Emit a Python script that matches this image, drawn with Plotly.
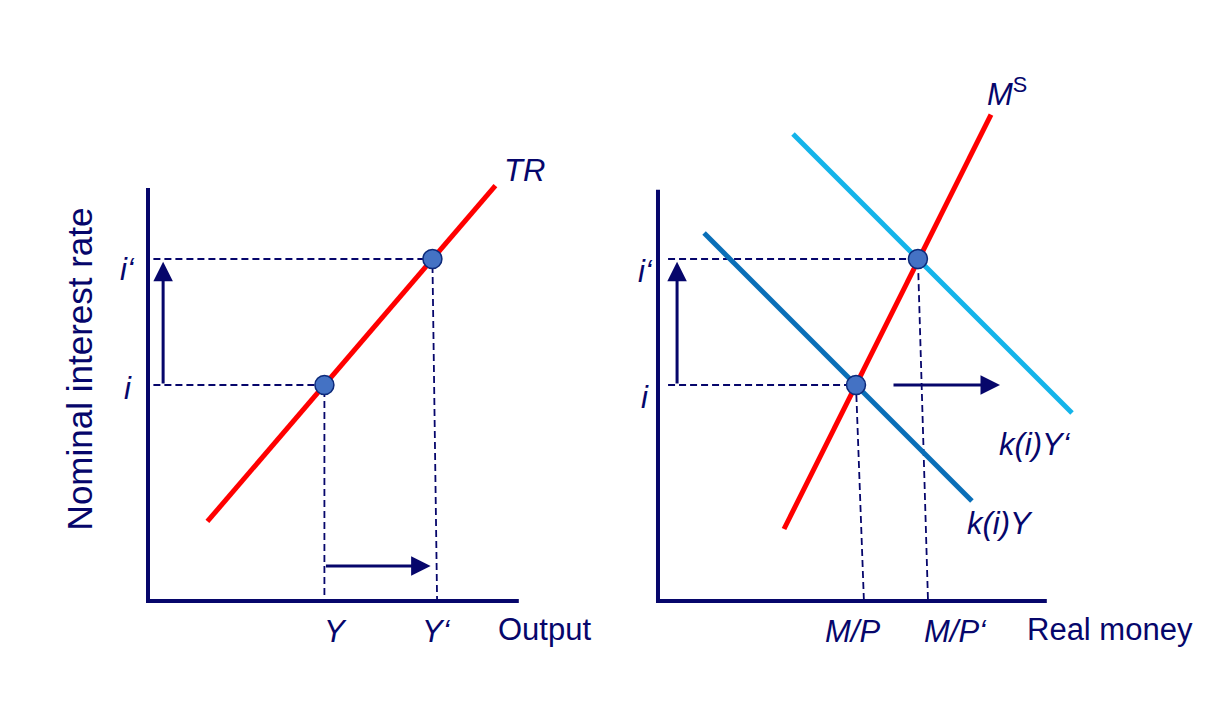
import plotly.graph_objects as go

NAVY = "#06066b"
RED = "#ff0000"
DARK_BLUE = "#0a6fb8"
LIGHT_BLUE = "#14b4ea"
DOT_FILL = "#4472c4"
DOT_LINE = "#0d2a7a"
FONT = "Liberation Sans, Arial, sans-serif"

# ---------------- Left panel (Output market / Taylor rule) ----------------
left_axis_x = [0, 0, 10.3]
left_axis_y = [11.47, 0, 0]
tr_x = [1.65, 9.65]
tr_y = [2.21, 11.54]
left_eq_x = [4.9, 7.9]          # Y, Y'
left_eq_y = [6.0, 9.5]          # i, i'
left_foot_x = [4.9, 8.03]       # where the dashed guides meet the output axis
left_rate_labels = ["<i>i</i>", "<i>i‘</i>"]
left_out_labels = ["<i>Y</i>", "<i>Y‘</i>"]
left_up_arrow = dict(x=0.42, y0=6.0, y1=9.42)
left_right_arrow = dict(y=0.97, x0=4.9, x1=7.85)

# ---------------- Right panel (Money market) ----------------
right_axis_x = [0, 0, 10.8]
right_axis_y = [11.42, 0, 0]
ms_x = [3.5, 9.25]
ms_y = [2.0, 13.51]
kY_x = [1.28, 8.72]
kY_y = [10.22, 2.78]
kY2_x = [3.75, 11.5]
kY2_y = [12.97, 5.22]
right_eq_x = [5.5, 7.22]        # M/P, M/P'
right_eq_y = [6.0, 9.5]         # i, i'
right_foot_x = [5.72, 7.5]
right_rate_labels = ["<i>i</i>", "<i>i‘</i>"]
right_out_labels = ["<i>M/P</i>", "<i>M/P‘</i>"]
right_up_arrow = dict(x=0.53, y0=6.0, y1=9.42)
right_right_arrow = dict(y=6.0, x0=6.5, x1=9.5)

fig = go.Figure()

def add_panel(xa, ya, axis_x, axis_y, curves, eq_x, eq_y, foot_x, dash_start):
    fig.add_trace(go.Scatter(x=axis_x, y=axis_y, mode="lines",
                             line=dict(color=NAVY, width=4),
                             xaxis=xa, yaxis=ya, hoverinfo="skip"))
    for ex, ey, fx in zip(eq_x, eq_y, foot_x):
        fig.add_trace(go.Scatter(x=[dash_start, ex, fx], y=[ey, ey, 0], mode="lines",
                                 line=dict(color=NAVY, width=1.8, dash="7px,4px"),
                                 xaxis=xa, yaxis=ya, hoverinfo="skip"))
    for cx, cy, col in curves:
        fig.add_trace(go.Scatter(x=cx, y=cy, mode="lines",
                                 line=dict(color=col, width=5),
                                 xaxis=xa, yaxis=ya, hoverinfo="skip"))
    fig.add_trace(go.Scatter(x=eq_x, y=eq_y, mode="markers",
                             marker=dict(size=19, color=DOT_FILL,
                                         line=dict(color=DOT_LINE, width=1.5)),
                             xaxis=xa, yaxis=ya, hoverinfo="skip"))

add_panel("x", "y", left_axis_x, left_axis_y, [(tr_x, tr_y, RED)],
          left_eq_x, left_eq_y, left_foot_x, 0.15)
add_panel("x2", "y2", right_axis_x, right_axis_y,
          [(kY2_x, kY2_y, LIGHT_BLUE), (kY_x, kY_y, DARK_BLUE), (ms_x, ms_y, RED)],
          right_eq_x, right_eq_y, right_foot_x, 0.28)

ann = []

def arrow(xr, yr, x0, y0, x1, y1):
    ann.append(dict(x=x1, y=y1, ax=x0, ay=y0, xref=xr, yref=yr, axref=xr, ayref=yr,
                    showarrow=True, arrowhead=2, arrowsize=1.3, arrowwidth=3,
                    arrowcolor=NAVY, text=""))

def label(xr, yr, x, y, text, size=31, xanchor="center"):
    ann.append(dict(x=x, y=y, xref=xr, yref=yr, text=text, showarrow=False,
                    xanchor=xanchor, yanchor="middle",
                    font=dict(family=FONT, size=size, color=NAVY)))

a = left_up_arrow
arrow("x", "y", a["x"], a["y0"], a["x"], a["y1"])
a = left_right_arrow
arrow("x", "y", a["x0"], a["y"], a["x1"], a["y"])
a = right_up_arrow
arrow("x2", "y2", a["x"], a["y0"], a["x"], a["y1"])
a = right_right_arrow
arrow("x2", "y2", a["x0"], a["y"], a["x1"], a["y"])

# left labels
label("x", "y", -0.56, left_eq_y[0] - 0.1, left_rate_labels[0])
label("x", "y", -0.56, left_eq_y[1] - 0.3, left_rate_labels[1])
label("x", "y", left_eq_x[0] + 0.3, -0.86, left_out_labels[0])
label("x", "y", left_eq_x[1] + 0.1, -0.86, left_out_labels[1])
label("x", "y", 11.0, -0.8, "Output")
label("x", "y", 10.47, 11.95, "<i>TR</i>")
ann.append(dict(x=-1.9, y=6.45, xref="x", yref="y", text="Nominal interest rate",
                showarrow=False, textangle=-90,
                font=dict(family=FONT, size=35, color=NAVY)))

# right labels
label("x2", "y2", -0.36, right_eq_y[0] - 0.35, right_rate_labels[0])
label("x2", "y2", -0.36, right_eq_y[1] - 0.35, right_rate_labels[1])
label("x2", "y2", 5.39, -0.86, right_out_labels[0])
label("x2", "y2", 8.25, -0.86, right_out_labels[1])
label("x2", "y2", 12.55, -0.8, "Real money")
label("x2", "y2", 9.7, 14.15, "<i>M</i><sup>S</sup>")
label("x2", "y2", 10.47, 4.35, "<i>k(i)Y‘</i>")
label("x2", "y2", 9.5, 2.15, "<i>k(i)Y</i>")
ann.append(dict(x=-2.08, y=6.45, xref="x2", yref="y2", text="Nominal interest rate",
                showarrow=False, textangle=-90,
                font=dict(family=FONT, size=35, color=NAVY)))

hidden = dict(visible=False, showgrid=False, zeroline=False, fixedrange=True)
fig.update_layout(
    width=1228, height=722,
    margin=dict(l=0, r=0, t=0, b=0),
    paper_bgcolor="white", plot_bgcolor="white",
    showlegend=False,
    xaxis=dict(domain=[0, 0.5], range=[-4.111, 12.944], **hidden),
    yaxis=dict(domain=[0, 1], range=[-3.361, 16.694], **hidden),
    xaxis2=dict(domain=[0.5, 1], range=[-1.222, 15.833], anchor="y2", **hidden),
    yaxis2=dict(domain=[0, 1], range=[-3.361, 16.694], anchor="x2", **hidden),
    annotations=ann,
)
fig.write_html("out.html",
               config=dict(displayModeBar=False, staticPlot=True),
               post_script="document.body.style.margin='0';document.body.style.overflow='hidden';")
